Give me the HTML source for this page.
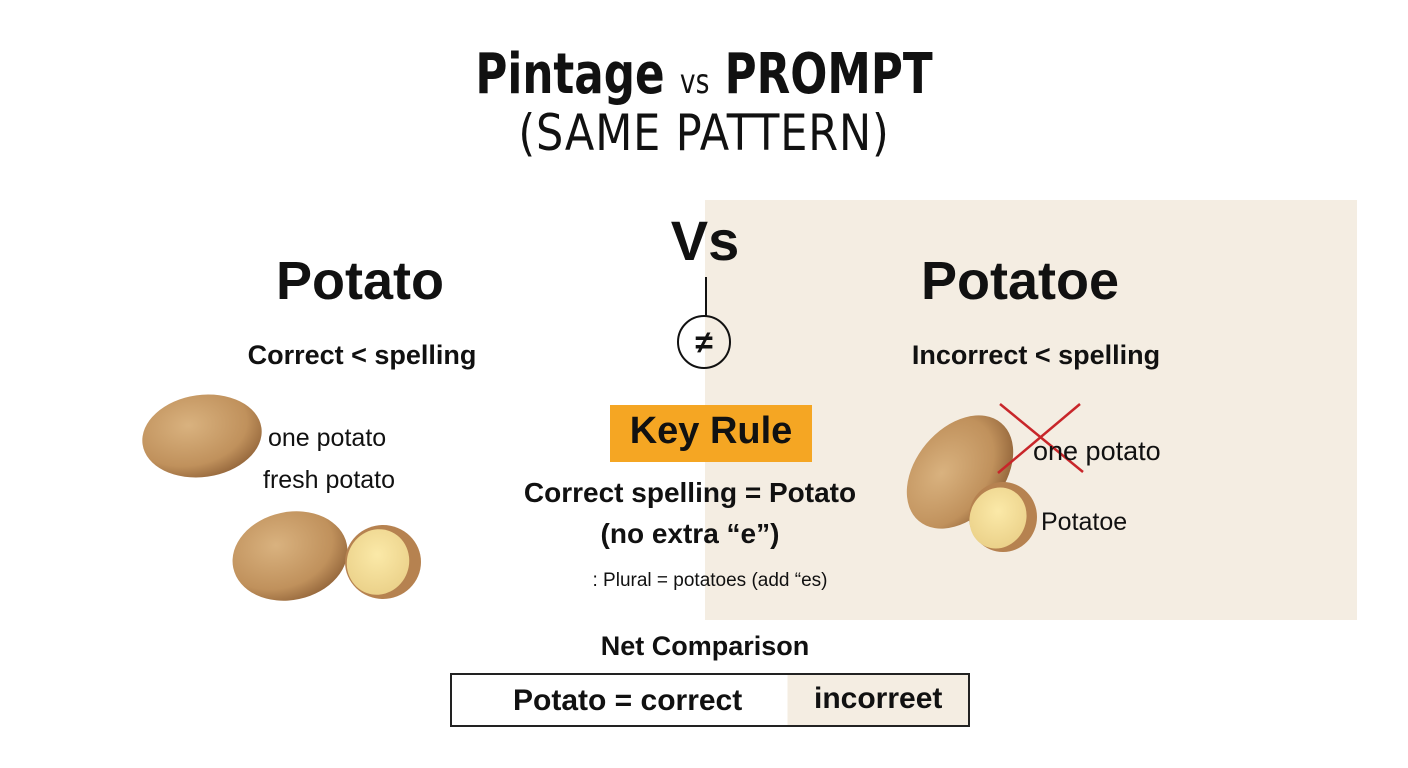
<!DOCTYPE html>
<html><head><meta charset="utf-8"><style>
html,body{margin:0;padding:0}
body{width:1408px;height:768px;position:relative;background:#fff;font-family:"Liberation Sans","DejaVu Sans",sans-serif;color:#111;overflow:hidden}
.t{position:absolute;white-space:nowrap;text-align:center}
.b{font-weight:bold}
</style></head><body>
<div style="position:absolute;left:705px;top:200px;width:652px;height:420px;background:#f4ede2"></div>

<div class="t" style="left:0;width:1408px;top:42px;font-size:56px;font-family:'DejaVu Sans',sans-serif;font-weight:bold;transform:scaleX(0.78);transform-origin:704px 0">Pintage <span style="font-size:34px;font-weight:normal">vs</span> PROMPT</div>
<div class="t" style="left:0;width:1408px;top:104px;font-size:50px;font-family:'DejaVu Sans',sans-serif;letter-spacing:1px;transform:scaleX(0.86);transform-origin:704px 0">(SAME PATTERN)</div>

<div class="t b" style="left:660px;width:90px;top:208px;font-size:56px">Vs</div>
<div style="position:absolute;left:705px;top:277px;width:2px;height:40px;background:#111"></div>
<div style="position:absolute;left:677px;top:315px;width:54px;height:54px;border:2px solid #111;border-radius:50%;box-sizing:border-box;text-align:center;line-height:50px;font-size:32px;font-weight:bold">≠</div>

<div class="t b" style="left:210px;width:300px;top:250px;font-size:54px">Potato</div>
<div class="t b" style="left:197px;width:330px;top:340px;font-size:27px">Correct &lt; spelling</div>
<div class="t b" style="left:870px;width:300px;top:250px;font-size:54px">Potatoe</div>
<div class="t b" style="left:871px;width:330px;top:340px;font-size:27px">Incorrect &lt; spelling</div>

<svg style="position:absolute;left:0;top:0" width="1408" height="768">
<defs>
<radialGradient id="p" cx="40%" cy="35%" r="70%"><stop offset="0" stop-color="#d9b27f"/><stop offset="0.7" stop-color="#c0915c"/><stop offset="1" stop-color="#93653a"/></radialGradient>
<radialGradient id="y" cx="45%" cy="40%" r="65%"><stop offset="0" stop-color="#fbe9a8"/><stop offset="1" stop-color="#ead088"/></radialGradient>
</defs>
<ellipse cx="202" cy="436" rx="60" ry="41" fill="url(#p)" transform="rotate(-8 202 436)"/>
<ellipse cx="290" cy="556" rx="58" ry="44" fill="url(#p)" transform="rotate(-12 290 556)"/>
<ellipse cx="383" cy="562" rx="38" ry="37" fill="#b68250"/>
<ellipse cx="378" cy="562" rx="31" ry="33" fill="url(#y)" transform="rotate(20 378 562)"/>
<ellipse cx="960" cy="472" rx="64" ry="44" fill="url(#p)" transform="rotate(-50 960 472)"/>
<ellipse cx="1003" cy="517" rx="34" ry="35" fill="#b68250"/>
<ellipse cx="998" cy="518" rx="28" ry="31" fill="url(#y)" transform="rotate(25 998 518)"/>
<line x1="1000" y1="404" x2="1083" y2="472" stroke="#c8262a" stroke-width="2.5"/>
<line x1="1080" y1="404" x2="998" y2="473" stroke="#c8262a" stroke-width="2.5"/>
</svg>

<div class="t" style="left:268px;top:424px;font-size:25px">one potato</div>
<div class="t" style="left:263px;top:466px;font-size:25px">fresh potato</div>
<div class="t" style="left:1033px;top:436px;font-size:27px">one potato</div>
<div class="t" style="left:1041px;top:508px;font-size:25px">Potatoe</div>

<div style="position:absolute;left:610px;top:405px;width:202px;height:57px;background:#f5a623"></div>
<div class="t b" style="left:610px;width:202px;top:410px;font-size:38px">Key Rule</div>
<div class="t b" style="left:440px;width:500px;top:477px;font-size:28px">Correct spelling = Potato</div>
<div class="t b" style="left:440px;width:500px;top:518px;font-size:28px">(no extra “e”)</div>
<div class="t" style="left:440px;width:540px;top:570px;font-size:19px">: Plural = potatoes (add “es)</div>

<div class="t b" style="left:505px;width:400px;top:631px;font-size:27px">Net Comparison</div>
<div style="position:absolute;left:450px;top:673px;width:520px;height:54px;border:2px solid #222;box-sizing:border-box;background:linear-gradient(to right,#fff 0,#fff 65%,#f4ede2 65%)"></div>
<div class="t b" style="left:513px;top:684px;font-size:30px">Potato = correct</div>
<div class="t b" style="left:814px;top:682px;font-size:30px">incorreet</div>
</body></html>
